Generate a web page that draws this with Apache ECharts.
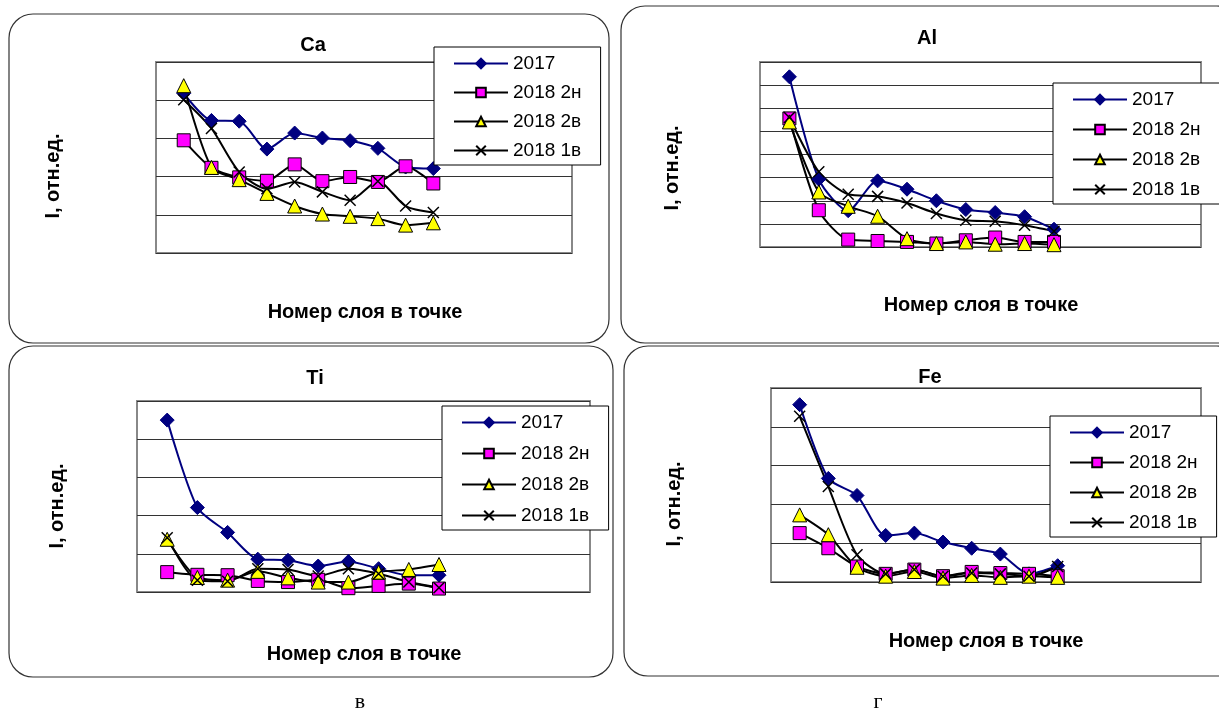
<!DOCTYPE html>
<html>
<head>
<meta charset="utf-8">
<script src="https://cdn.jsdelivr.net/npm/echarts@6/dist/echarts.min.js"></script>
<style>
html, body { margin: 0; padding: 0; background: #fff; }
#chart { width: 1219px; height: 709px; }
</style>
</head>
<body>
<div id="chart"></div>
<script>
// номера слоёв (ось X)
var layers = [1, 2, 3, 4, 5, 6, 7, 8, 9, 10];
var seriesNames = ["2017", "2018 2н", "2018 2в", "2018 1в"];
var elements = ["Ca", "Al", "Ti", "Fe"];
var yMax = [5, 8, 5, 5];

// Ca
var ca2017 = [4.18, 3.47, 3.45, 2.72, 3.14, 3.01, 2.94, 2.74, 2.25, 2.21];
var ca2n   = [2.95, 2.23, 1.98, 1.89, 2.32, 1.88, 1.99, 1.86, 2.27, 1.82];
var ca2v   = [4.38, 2.24, 1.92, 1.56, 1.23, 1.02, 0.96, 0.90, 0.73, 0.79];
var ca1v   = [4.01, 3.26, 2.12, 1.68, 1.86, 1.60, 1.38, 1.88, 1.23, 1.06];
// Al
var al2017 = [7.36, 2.93, 1.57, 2.86, 2.50, 2.00, 1.62, 1.49, 1.31, 0.77];
var al2n   = [5.56, 1.59, 0.32, 0.26, 0.22, 0.15, 0.29, 0.41, 0.22, 0.22];
var al2v   = [5.41, 2.38, 1.76, 1.33, 0.36, 0.15, 0.22, 0.12, 0.15, 0.10];
var al1v   = [5.60, 3.25, 2.28, 2.19, 1.90, 1.45, 1.16, 1.11, 0.94, 0.68];
// Ti
var ti2017 = [4.50, 2.21, 1.56, 0.86, 0.83, 0.68, 0.80, 0.61, 0.44, 0.44];
var ti2n   = [0.52, 0.45, 0.44, 0.29, 0.26, 0.32, 0.10, 0.16, 0.22, 0.09];
var ti2v   = [1.38, 0.38, 0.31, 0.54, 0.37, 0.26, 0.26, 0.52, 0.59, 0.72];
var ti1v   = [1.42, 0.31, 0.28, 0.61, 0.59, 0.42, 0.61, 0.48, 0.26, 0.11];
// Fe
var fe2017 = [4.57, 2.67, 2.23, 1.20, 1.26, 1.03, 0.87, 0.72, 0.21, 0.42];
var fe2n   = [1.26, 0.87, 0.40, 0.21, 0.32, 0.15, 0.26, 0.23, 0.21, 0.15];
var fe2v   = [1.73, 1.22, 0.38, 0.15, 0.27, 0.10, 0.17, 0.12, 0.15, 0.12];
var fe1v   = [4.27, 2.46, 0.70, 0.21, 0.32, 0.15, 0.23, 0.21, 0.15, 0.40];

var panelData = [
    [ca2017, ca2n, ca2v, ca1v],
    [al2017, al2n, al2v, al1v],
    [ti2017, ti2n, ti2v, ti1v],
    [fe2017, fe2n, fe2v, fe1v]
];

// раскладка панелей
var panels = [
    {box: [9, 14, 600, 329], grid: [156, 62, 416, 191], legend: [434, 47, 10], title: [313, 45], xName: [365, 312], yName: [53, 176]},
    {box: [621, 6, 620, 337], grid: [760, 62, 441, 185], legend: [1053, 83, 11], title: [927, 38], xName: [981, 305], yName: [672, 168]},
    {box: [9, 346, 604, 331], grid: [137, 401, 453, 191], legend: [442, 406, 12], title: [315, 378], xName: [364, 654], yName: [57, 506]},
    {box: [624, 346, 617, 330], grid: [771, 388, 430, 194], legend: [1050, 416, 11], title: [930, 377], xName: [986, 641], yName: [674, 504]}
];

var styles = [
    {symbol: "diamond", size: 14, color: "#000080", border: "#000080", line: "#000080"},
    {symbol: "rect", size: 13, color: "#ff00ff", border: "#000", line: "#000"},
    {symbol: "triangle", size: 14, color: "#ffff00", border: "#000", line: "#000"},
    {symbol: "path://M0,0L10,10M10,0L0,10", size: 11, color: "#000", border: "#000", line: "#000"}
];

var font = "Arial, 'Liberation Sans', sans-serif";
var grids = [], xAxes = [], yAxes = [], series = [], legends = [], graphics = [];

panels.forEach(function (p, i) {
    grids.push({
        left: p.grid[0], top: p.grid[1], width: p.grid[2], height: p.grid[3],
        show: true, backgroundColor: "#fff", borderColor: "#888", borderWidth: 2
    });
    xAxes.push({
        type: "value", gridIndex: i, min: 0, max: 15,
        axisLine: {show: false}, axisTick: {show: false}, axisLabel: {show: false}, splitLine: {show: false}
    });
    yAxes.push({
        type: "value", gridIndex: i, min: 0, max: yMax[i], interval: 1,
        axisLine: {show: false}, axisTick: {show: false}, axisLabel: {show: false},
        splitLine: {show: true, lineStyle: {color: "#333", width: 1}}
    });
    panelData[i].forEach(function (vals, k) {
        var s = styles[k];
        series.push({
            name: seriesNames[k],
            type: "line",
            xAxisIndex: i,
            yAxisIndex: i,
            data: layers.map(function (x, j) { return [x, vals[j]]; }),
            symbol: s.symbol,
            symbolSize: s.size,
            smooth: 0.25,
            lineStyle: {color: s.line, width: 2},
            itemStyle: {color: s.color, borderColor: s.border, borderWidth: k === 3 ? 1.5 : 1},
            emphasis: {disabled: true}
        });
    });
    legends.push({
        data: seriesNames,
        orient: "vertical",
        left: p.legend[0],
        top: p.legend[1],
        padding: [7, 19, 5, 19],
        itemWidth: 54,
        itemHeight: 12,
        itemGap: p.legend[2],
        backgroundColor: "#fff",
        borderColor: "#000",
        borderWidth: 1,
        selectedMode: false,
        textStyle: {fontSize: 19, color: "#000", fontFamily: font}
    });
    graphics.push({
        type: "rect", z: 0,
        shape: {x: p.box[0], y: p.box[1], width: p.box[2], height: p.box[3], r: 24},
        style: {fill: "none", stroke: "#333", lineWidth: 1.2}
    });
    graphics.push({
        type: "text", x: p.title[0], y: p.title[1],
        style: {text: elements[i], fill: "#000", font: "bold 20px " + font, align: "center", verticalAlign: "middle"}
    });
    graphics.push({
        type: "text", x: p.xName[0], y: p.xName[1],
        style: {text: "Номер слоя в точке", fill: "#000", font: "bold 20px " + font, align: "center", verticalAlign: "middle"}
    });
    graphics.push({
        type: "text", x: p.yName[0], y: p.yName[1], rotation: Math.PI / 2,
        style: {text: "I, отн.ед.", fill: "#000", font: "bold 20px " + font, align: "center", verticalAlign: "middle"}
    });
});

graphics.push({
    type: "text", x: 360, y: 702,
    style: {text: "в", fill: "#000", font: "22px 'Liberation Serif', 'Times New Roman', serif", align: "center", verticalAlign: "middle"}
});
graphics.push({
    type: "text", x: 878, y: 702,
    style: {text: "г", fill: "#000", font: "22px 'Liberation Serif', 'Times New Roman', serif", align: "center", verticalAlign: "middle"}
});

var chart = echarts.init(document.getElementById("chart"));
chart.setOption({
    animation: false,
    grid: grids,
    xAxis: xAxes,
    yAxis: yAxes,
    legend: legends,
    graphic: graphics,
    series: series
});
</script>
</body>
</html>
